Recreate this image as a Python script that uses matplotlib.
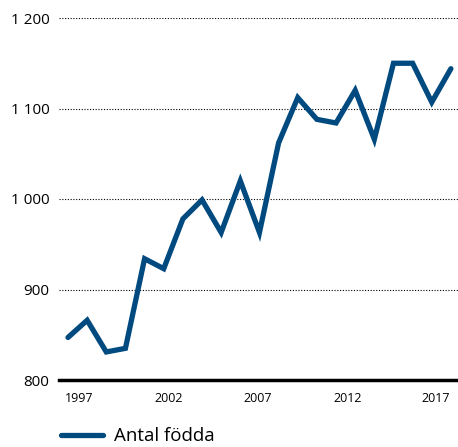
import matplotlib.pyplot as plt
from matplotlib.ticker import FuncFormatter

plt.rcParams['font.family'] = ['Open Sans', 'DejaVu Sans']

years = list(range(1997, 2018))
born = [847, 866, 831, 835, 934, 923, 978, 999, 963, 1020, 963,
        1062, 1112, 1088, 1084, 1120, 1066, 1150, 1150, 1107, 1144]
tick_labels = ['1997', '2002', '2007', '2012', '2017']
y_ticks = [800, 900, 1000, 1100, 1200]

# label positions are shifted slightly relative to the points in the original
tick_pos = [1997.6, 2002.27, 2006.93, 2011.6, 2016.23]

fig = plt.figure(figsize=(4.58, 4.47), dpi=100)
ax = fig.add_axes([59 / 458, (447 - 380) / 447, 399 / 458, (380 - 18) / 447])

ax.plot(years, born, color='#004a7f', linewidth=3.8, solid_joinstyle='miter',
        solid_capstyle='round', label='Antal födda', zorder=3)

ax.set_xlim(1996.53, 2017.37)
ax.set_ylim(800, 1200)

ax.set_yticks(y_ticks)
ax.yaxis.set_major_formatter(FuncFormatter(lambda v, p: f'{int(v):,}'.replace(',', ' ')))
for y in y_ticks[1:]:
    ax.axhline(y, color='black', linewidth=0.8, linestyle=(0, (1, 1.5)), zorder=1)
ax.axhline(800, color='black', linewidth=2.5, zorder=2, clip_on=False)

ax.set_xticks(tick_pos)
ax.set_xticklabels(tick_labels)
ax.tick_params(axis='x', length=0, pad=9, labelsize=9)
ax.tick_params(axis='y', length=0, pad=7, labelsize=11)

for s in ax.spines.values():
    s.set_visible(False)

fig.legend(loc='lower left', bbox_to_anchor=(0.097, -0.034), frameon=False,
           fontsize=13.5, handlelength=2.2, handletextpad=0.6)

fig.savefig('out.png', dpi=100)
